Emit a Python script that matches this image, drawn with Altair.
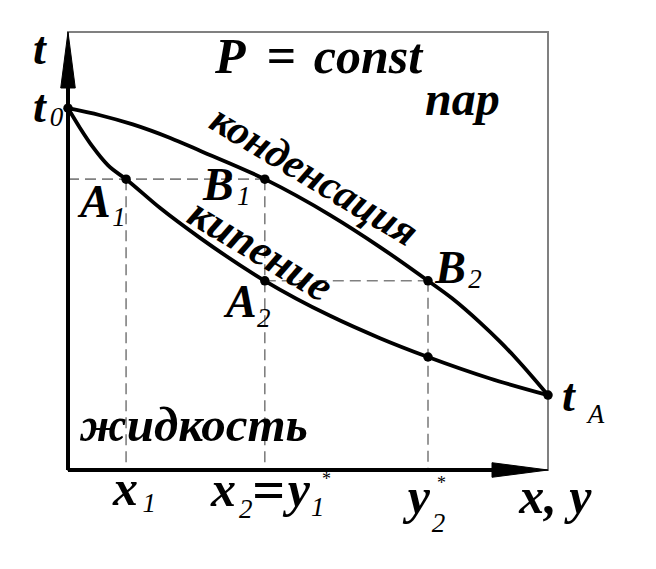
import altair as alt
import pandas as pd

# Condensation (dew) curve: x (mole fraction, %), t (relative temperature, %)
upper_x = [0, 6.7, 13.5, 21.3, 27.5, 41.0, 54.6, 65.0, 75.0, 80.0, 85.8, 90.0, 93.5, 96.5, 100]
upper_t = [82.6, 81.0, 78.9, 75.8, 72.9, 66.4, 58.2, 50.9, 43.2, 39.2, 33.7, 29.3, 25.3, 21.6, 17.1]
# Boiling (bubble) curve
lower_x = [0, 2.5, 5.2, 8.3, 12.1, 19.2, 27.5, 41.0, 54.6, 65.0, 75.0, 87.9, 100]
lower_t = [82.6, 78.1, 73.7, 69.6, 66.4, 59.8, 53.0, 43.2, 35.2, 30.1, 25.8, 20.9, 17.1]

# Marked points
pt_x = [0, 12.1, 41.0, 41.0, 75.0, 75.0, 100]
pt_t = [82.6, 66.4, 66.4, 43.2, 43.2, 25.8, 17.1]

# Dashed construction lines (x, t, x2, t2)
dash_x = [0, 12.1, 41.0, 41.0, 75.0]
dash_t = [66.4, 66.4, 66.4, 43.2, 43.2]
dash_x2 = [41.0, 12.1, 41.0, 75.0, 75.0]
dash_t2 = [66.4, 0, 0, 43.2, 0]

# Point / axis labels
pt_labels = ["t", "t", "A", "B", "A", "B", "t"]
pt_lab_x = [-7.3, -7.3, 2.5, 28.1, 32.9, 76.5, 102.9]
pt_lab_t = [92.7, 79.5, 57.8, 61.6, 34.9, 42.7, 13.5]

# Title and axis-value labels
main_labels = ["P", "const", "x", "x", "y", "y", "x, y"]
main_lab_x = [30.6, 51.2, 9.4, 29.8, 45.8, 70.8, 94.0]
main_lab_t = [90.6, 90.6, -8.0, -8.2, -8.2, -9.8, -9.8]

eq_x = [41.3]
eq_t = [90.6]
eq2_x = [38.3]
eq2_t = [-8.9]

region_labels = ["пар", "жидкость"]
region_x = [74.4, 2.5]
region_t = [81.1, 6.6]

# Subscripts
sub_text = ["0", "1", "1", "2", "2", "A", "1", "2", "1", "2"]
sub_x = [-3.8, 9.2, 35.2, 39.4, 83.4, 108.3, 15.5, 35.6, 50.6, 75.8]
sub_t = [78.5, 55.7, 60.5, 32.6, 41.6, 10.7, -9.6, -11.0, -10.5, -14.2]

# Stars
star_x = [52.9, 76.9]
star_t = [-3.4, -4.3]

# Curve labels (rotated)
rot1_text = ["конденсация"]
rot1_x = [51.25]
rot1_t = [67.1]
rot2_text = ["кипение"]
rot2_x = [40.0]
rot2_t = [50.0]

FONT = "Liberation Serif"
xs = alt.Scale(domain=[0, 100], nice=False, zero=False)
ys = alt.Scale(domain=[0, 100], nice=False, zero=False)


def X(f="x"):
    return alt.X(f"{f}:Q", scale=xs, axis=None)


def Y(f="t"):
    return alt.Y(f"{f}:Q", scale=ys, axis=None)


def text_layer(texts, xv, tv, size, bold=True, italic=True, angle=0, align="left",
               baseline="alphabetic"):
    df = pd.DataFrame({"x": xv, "t": tv, "text": texts})
    kw = dict(font=FONT, fontSize=size, align=align, baseline=baseline, color="black")
    if bold:
        kw["fontWeight"] = "bold"
    if italic:
        kw["fontStyle"] = "italic"
    if angle:
        kw["angle"] = angle
    return alt.Chart(df).mark_text(**kw).encode(x=X(), y=Y(), text="text:N")


up = pd.DataFrame({"x": upper_x, "t": upper_t, "o": range(len(upper_x))})
lo = pd.DataFrame({"x": lower_x, "t": lower_t, "o": range(len(lower_x))})
pts = pd.DataFrame({"x": pt_x, "t": pt_t})
dsh = pd.DataFrame({"x": dash_x, "t": dash_t, "x2": dash_x2, "t2": dash_t2})

dashes = alt.Chart(dsh).mark_rule(stroke="#808080", strokeWidth=1.6, strokeDash=[11, 6]).encode(
    x=X(), y=Y(), x2="x2:Q", y2="t2:Q")

axes_df = pd.DataFrame({"x": [0, 0], "t": [0, 0], "x2": [0, 92], "t2": [90, 0]})
axes = alt.Chart(axes_df).mark_rule(stroke="black", strokeWidth=4).encode(
    x=X(), y=Y(), x2="x2:Q", y2="t2:Q")

arr_up = alt.Chart(pd.DataFrame({"x": [0], "t": [100]})).mark_point(
    shape="M0,0 L0.26,2 L-0.26,2 Z", size=3136, filled=True, fill="black",
    stroke="black", strokeWidth=1, opacity=1).encode(x=X(), y=Y())
arr_right = alt.Chart(pd.DataFrame({"x": [100], "t": [0]})).mark_point(
    shape="M0,0 L-2,0.26 L-2,-0.26 Z", size=3136, filled=True, fill="black",
    stroke="black", strokeWidth=1, opacity=1).encode(x=X(), y=Y())

c_up = alt.Chart(up).mark_line(color="black", strokeWidth=3.8, interpolate="monotone").encode(
    x=X(), y=Y(), order="o:Q")
c_lo = alt.Chart(lo).mark_line(color="black", strokeWidth=3.8, interpolate="monotone").encode(
    x=X(), y=Y(), order="o:Q")

dots = alt.Chart(pts).mark_circle(color="black", size=90, opacity=1).encode(x=X(), y=Y())

layers = [
    dashes, axes, arr_up, arr_right, c_up, c_lo, dots,
    text_layer(pt_labels, pt_lab_x, pt_lab_t, 46),
    text_layer(main_labels, main_lab_x, main_lab_t, 50),
    text_layer(["="], eq_x, eq_t, 52),
    text_layer(["="], eq2_x, eq2_t, 58),
    text_layer(region_labels[:1], region_x[:1], region_t[:1], 48),
    text_layer(region_labels[1:], region_x[1:], region_t[1:], 49),
    text_layer(sub_text, sub_x, sub_t, 27, bold=False),
    text_layer(["*"] * len(star_x), star_x, star_t, 18, bold=False, italic=False),
    text_layer(rot1_text, rot1_x, rot1_t, 42, angle=31, align="center", baseline="middle"),
    text_layer(rot2_text, rot2_x, rot2_t, 44, angle=31, align="center", baseline="middle"),
]

chart = alt.layer(*layers).properties(
    width=480, height=438,
    autosize=alt.AutoSizeParams(type="none"),
    padding={"left": 60, "top": 24, "right": 100, "bottom": 91},
    background="white",
).configure_view(stroke="#808080", strokeWidth=2)

chart.save("out.html", embed_options={"renderer": "svg", "actions": False})
